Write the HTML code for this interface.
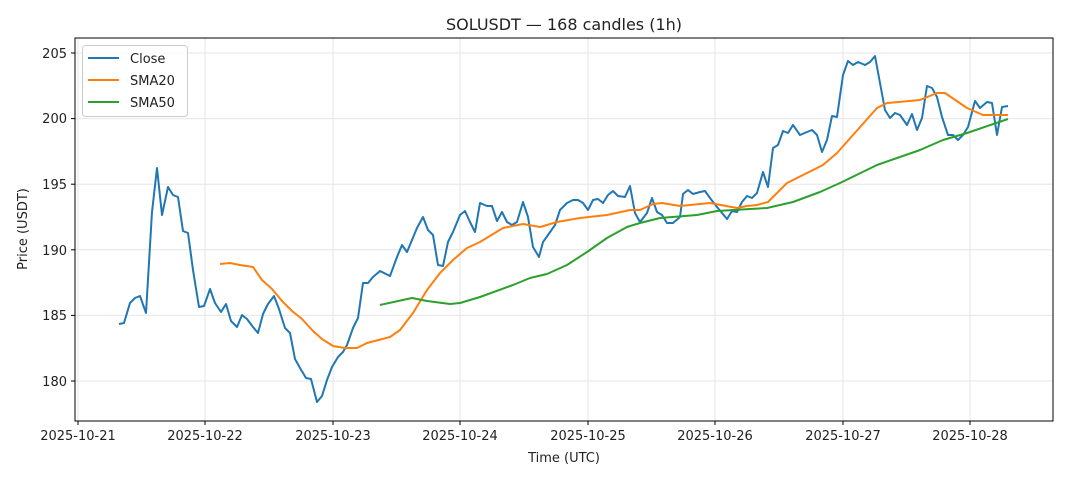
<!DOCTYPE html>
<html><head><meta charset="utf-8"><style>
html,body{margin:0;padding:0;background:#fff;}
svg{display:block;font-family:"DejaVu Sans","Liberation Sans",sans-serif;}
</style></head><body>
<svg width="1068" height="481" viewBox="0 0 1068 481" xmlns="http://www.w3.org/2000/svg">
<rect width="1068" height="481" fill="#fff"/>
<text x="564" y="30" font-size="16" text-anchor="middle" fill="#222">SOLUSDT — 168 candles (1h)</text>
<g stroke="#e6e6e6" stroke-width="1">
<line x1="78" y1="38" x2="78" y2="421"/><line x1="205" y1="38" x2="205" y2="421"/><line x1="333" y1="38" x2="333" y2="421"/><line x1="460" y1="38" x2="460" y2="421"/><line x1="588" y1="38" x2="588" y2="421"/><line x1="715" y1="38" x2="715" y2="421"/><line x1="843" y1="38" x2="843" y2="421"/><line x1="970" y1="38" x2="970" y2="421"/>
<line x1="75" y1="53" x2="1053" y2="53"/><line x1="75" y1="118.6" x2="1053" y2="118.6"/><line x1="75" y1="184.2" x2="1053" y2="184.2"/><line x1="75" y1="249.8" x2="1053" y2="249.8"/><line x1="75" y1="315.4" x2="1053" y2="315.4"/><line x1="75" y1="381" x2="1053" y2="381"/>
</g>
<g fill="none" stroke-width="2" stroke-linejoin="round">
<polyline stroke="#1f77b4" points="119,324 124,323 130,303 135,298 140,296 146,313 152,212 157,168 162,215 168,187 173,195 178,197 183,231 188,233 193,270 199,307 204,306 210,289 215,303 221,312 226,304 231,321 237,327 242,315 247,319 253,327 258,333 263,314 268,304 274,296 279,309 285,328 290,333 295,359 300,368 306,378 311,379 317,402 322,396 327,380 332,367 338,357 343,352 347,345 353,328 358,318 363,283 368,283 373,277 380,271 390,276 397,257 402,245 407,252 412,240 417,228 423,217 428,230 433,235 438,265 443,266 448,242 453,232 460,215 465,211 470,222 475,232 480,203 487,206 492,206 497,221 502,212 507,222 512,225 517,222 523,202 528,217 533,247 539,257 543,242 548,235 555,225 560,210 567,203 573,200 578,200 583,203 588,210 593,200 598,199 603,203 608,195 613,191 618,196 625,197 630,186 635,213 640,222 647,213 652,198 657,212 662,215 667,223 673,223 680,217 683,194 688,190 693,194 700,192 705,191 710,198 717,207 722,213 727,219 732,211 737,212 742,202 747,196 752,198 757,193 763,172 768,187 773,148 778,145 783,131 788,133 793,125 800,135 807,132 812,130 817,135 822,152 827,140 832,116 837,117 843,75 848,61 853,65 858,62 865,65 870,62 875,56 880,83 885,110 890,118 895,113 900,115 907,125 912,114 917,130 922,118 927,86 932,88 937,97 942,117 948,135 953,135 958,140 963,135 968,127 975,101 980,108 987,102 992,103 997,135 1002,107 1008,106"/>
<polyline stroke="#ff7f0e" points="220,264 230,263 240,265 253,267 262,280 272,289 282,301 292,311 302,319 313,331 322,339 333,346 345,348 357,348 367,343 390,337 400,330 413,313 427,290 440,273 453,260 467,248 480,242 503,228 523,224 540,227 557,222 580,218 607,215 630,210 640,210 653,204 662,203 680,206 710,203 737,208 747,206 757,205 768,202 787,183 807,173 823,165 837,153 853,135 877,108 887,103 920,100 937,93 945,93 967,108 983,115 1008,115"/>
<polyline stroke="#2ca02c" points="380,305 412,298 427,301 450,304 460,303 480,297 513,285 530,278 547,274 567,265 587,252 607,238 627,227 640,223 660,218 697,215 717,211 767,208 793,202 820,192 840,183 877,165 920,150 943,140 967,133 1008,119"/>
</g>
<rect x="75" y="38" width="978" height="383" fill="none" stroke="#000" stroke-width="1"/>
<g stroke="#000" stroke-width="1">
<line x1="78" y1="421" x2="78" y2="425"/><line x1="205" y1="421" x2="205" y2="425"/><line x1="333" y1="421" x2="333" y2="425"/><line x1="460" y1="421" x2="460" y2="425"/><line x1="588" y1="421" x2="588" y2="425"/><line x1="715" y1="421" x2="715" y2="425"/><line x1="843" y1="421" x2="843" y2="425"/><line x1="970" y1="421" x2="970" y2="425"/>
<line x1="71" y1="53" x2="75" y2="53"/><line x1="71" y1="118.6" x2="75" y2="118.6"/><line x1="71" y1="184.2" x2="75" y2="184.2"/><line x1="71" y1="249.8" x2="75" y2="249.8"/><line x1="71" y1="315.4" x2="75" y2="315.4"/><line x1="71" y1="381" x2="75" y2="381"/>
</g>
<g font-size="13" fill="#222" text-anchor="middle">
<text x="78" y="440">2025-10-21</text><text x="205" y="440">2025-10-22</text><text x="333" y="440">2025-10-23</text><text x="460" y="440">2025-10-24</text><text x="588" y="440">2025-10-25</text><text x="715" y="440">2025-10-26</text><text x="843" y="440">2025-10-27</text><text x="970" y="440">2025-10-28</text>
</g>
<g font-size="13" fill="#222" text-anchor="end">
<text x="67" y="58">205</text><text x="67" y="123">200</text><text x="67" y="189">195</text><text x="67" y="255">190</text><text x="67" y="320">185</text><text x="67" y="386">180</text>
</g>
<text x="564" y="462" font-size="13" text-anchor="middle" fill="#222">Time (UTC)</text>
<text transform="translate(27,229) rotate(-90)" font-size="13" text-anchor="middle" fill="#222">Price (USDT)</text>
<rect x="82.5" y="45.5" width="105" height="71" rx="3" fill="#fff" fill-opacity="0.8" stroke="#ccc"/>
<g stroke-width="2"><line x1="88" y1="58" x2="119" y2="58" stroke="#1f77b4"/><line x1="88" y1="80" x2="119" y2="80" stroke="#ff7f0e"/><line x1="88" y1="102" x2="119" y2="102" stroke="#2ca02c"/></g>
<g font-size="13" fill="#222"><text x="130" y="63">Close</text><text x="130" y="85">SMA20</text><text x="130" y="107">SMA50</text></g>
</svg>
</body></html>
